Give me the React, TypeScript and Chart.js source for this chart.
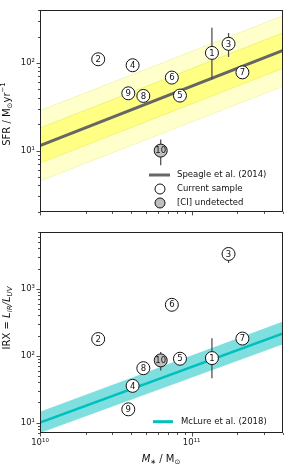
import React, { useEffect, useRef } from 'react';
import { Chart, registerables } from 'chart.js';
Chart.register(...registerables);

const FONT = '"DejaVu Sans"';
Chart.defaults.font.family = FONT;

// ---------------- data ----------------
const sampleIds = ['1', '2', '3', '4', '5', '6', '7', '8', '9'];
const sampleMass = [1.36e11, 2.42e10, 1.75e11, 4.08e10, 8.37e10, 7.4e10, 2.16e11, 4.8e10, 3.82e10];
const sampleSfr = [130, 110, 165, 94, 42.4, 68, 78, 42, 45];
const sampleSfrLo = [65, null, 117, null, null, null, null, null, null];
const sampleSfrHi = [252, null, 219, null, null, null, null, null, null];
const sampleIrx = [92, 177, 3300, 35.4, 90, 575, 180, 65, 15.8];
const sampleIrxLo = [46, null, 2420, null, null, null, null, null, null];
const sampleIrxHi = [182, null, 3600, null, null, null, null, null, null];

const undetIds = ['10'];
const undetMass = [6.25e10];
const undetSfr = [10];
const undetSfrLo = [6.8];
const undetSfrHi = [13.4];
const undetIrx = [85];
const undetIrxLo = [60];
const undetIrxHi = [113];

const relationMass = [1e10, 4e11];
const speagleSfr = [11.4, 139];
const speagleInnerHi = [18.1, 220];
const speagleInnerLo = [7.2, 87];
const speagleOuterHi = [28.6, 345];
const speagleOuterLo = [4.5, 54];
const mclureIrx = [10, 215];
const mclureHi = [14.5, 325];
const mclureLo = [7.0, 148];

const massTicks = [1e10, 2e10, 3e10, 4e10, 5e10, 6e10, 7e10, 8e10, 9e10, 1e11, 2e11, 3e11, 4e11];
const massMajor = [1e10, 1e11];
const massMajorLabels = ['10¹⁰', '10¹¹'];
const sfrTicks = [2, 3, 4, 5, 6, 7, 8, 9, 10, 20, 30, 40, 50, 60, 70, 80, 90, 100, 200, 300, 400];
const sfrMajor = [10, 100];
const sfrMajorLabels = ['10¹', '10²'];
const irxTicks = [7, 8, 9, 10, 20, 30, 40, 50, 60, 70, 80, 90, 100, 200, 300, 400, 500, 600, 700, 800, 900,
  1000, 2000, 3000, 4000, 5000, 6000, 7000];
const irxMajor = [10, 100, 1000];
const irxMajorLabels = ['10¹', '10²', '10³'];

// ---------------- helpers ----------------
type Seg = { t: string; s: number; dy?: number; it?: boolean };
const fnt = (s: number, it?: boolean) => `${it ? 'italic ' : ''}${s}px ${FONT}`;

function drawRich(ctx: CanvasRenderingContext2D, segs: Seg[], cx: number, cy: number, rot: boolean) {
  ctx.save();
  ctx.translate(cx, cy);
  if (rot) ctx.rotate(-Math.PI / 2);
  let w = 0;
  for (const g of segs) { ctx.font = fnt(g.s, g.it); w += ctx.measureText(g.t).width; }
  let x = -w / 2;
  ctx.textBaseline = 'middle';
  ctx.textAlign = 'left';
  ctx.fillStyle = '#111';
  for (const g of segs) {
    ctx.font = fnt(g.s, g.it);
    ctx.fillText(g.t, x, g.dy || 0);
    x += ctx.measureText(g.t).width;
  }
  ctx.restore();
}

const pts = (xs: number[], ys: number[]) => xs.map((x, i) => ({ x, y: ys[i] }));

type Err = { x: number; lo: number; hi: number };
function errs(xs: number[], lo: (number | null)[], hi: (number | null)[]): Err[] {
  const out: Err[] = [];
  xs.forEach((x, i) => { if (lo[i] != null && hi[i] != null) out.push({ x, lo: lo[i] as number, hi: hi[i] as number }); });
  return out;
}

type Spec = {
  yTicks: number[];
  errors: Err[];
  yTitle: Seg[];
  yTitleY: number;
  xTitle?: Seg[];
  xTitleY?: number;
  legend: (ctx: CanvasRenderingContext2D) => void;
};

function decor(spec: Spec) {
  return {
    id: 'decor',
    beforeDatasetDraw(chart: any, args: any) {
      if (args.index !== 1) return;
      const ctx = chart.ctx as CanvasRenderingContext2D;
      const xs = chart.scales.x, ys = chart.scales.y;
      ctx.save();
      ctx.strokeStyle = '#444';
      ctx.lineWidth = 1.2;
      for (const e of spec.errors) {
        const px = xs.getPixelForValue(e.x);
        ctx.beginPath();
        ctx.moveTo(px, ys.getPixelForValue(e.lo));
        ctx.lineTo(px, ys.getPixelForValue(e.hi));
        ctx.stroke();
      }
      ctx.restore();
    },
    afterDatasetsDraw(chart: any) {
      const ctx = chart.ctx as CanvasRenderingContext2D;
      const a = chart.chartArea;
      const xs = chart.scales.x, ys = chart.scales.y;
      ctx.save();
      // numbers inside markers
      ctx.font = fnt(8.5);
      ctx.fillStyle = '#111';
      ctx.textAlign = 'center';
      ctx.textBaseline = 'middle';
      const idSets = [undetIds, sampleIds];
      [0, 1].forEach((di) => {
        chart.getDatasetMeta(di).data.forEach((el: any, j: number) => {
          ctx.fillText(idSets[di][j], el.x, el.y + 0.5);
        });
      });
      // frame
      ctx.strokeStyle = '#222';
      ctx.lineWidth = 1;
      ctx.strokeRect(Math.round(a.left) + 0.5, Math.round(a.top) + 0.5,
        Math.round(a.right - a.left) - 1, Math.round(a.bottom - a.top) - 1);
      // ticks
      ctx.strokeStyle = '#222';
      ctx.lineWidth = 0.8;
      ctx.beginPath();
      for (const v of massTicks) {
        const px = Math.round(xs.getPixelForValue(v)) + 0.5;
        const major = massMajor.includes(v);
        ctx.moveTo(px, a.bottom);
        ctx.lineTo(px, a.bottom + (major ? 3.5 : 2));
      }
      for (const v of spec.yTicks) {
        const py = Math.round(ys.getPixelForValue(v)) + 0.5;
        const major = Math.abs(Math.log10(v) - Math.round(Math.log10(v))) < 1e-9;
        ctx.moveTo(a.left, py);
        ctx.lineTo(a.left - (major ? 3.5 : 2), py);
      }
      ctx.stroke();
      // legend
      spec.legend(ctx);
      // titles
      drawRich(ctx, spec.yTitle, 7, spec.yTitleY, true);
      if (spec.xTitle) drawRich(ctx, spec.xTitle, 161, spec.xTitleY as number, false);
      ctx.restore();
    },
  };
}

function legendText(ctx: CanvasRenderingContext2D, t: string, x: number, y: number) {
  ctx.font = fnt(8.5);
  ctx.fillStyle = '#111';
  ctx.textAlign = 'left';
  ctx.textBaseline = 'middle';
  ctx.fillText(t, x, y);
}
function legendCircle(ctx: CanvasRenderingContext2D, x: number, y: number, fill: string) {
  ctx.beginPath();
  ctx.arc(x, y, 5, 0, Math.PI * 2);
  ctx.fillStyle = fill;
  ctx.fill();
  ctx.strokeStyle = '#111';
  ctx.lineWidth = 1;
  ctx.stroke();
}

const markerStyle = (fill: string) => ({
  showLine: false,
  pointRadius: 6.5,
  pointBackgroundColor: fill,
  pointBorderColor: '#111',
  pointBorderWidth: 1,
  borderColor: '#111',
});
const relStyle = { pointRadius: 0, tension: 0 };

function logAxis(min: number, max: number, ticks: number[], major: number[], labels: string[], extra: any) {
  return {
    type: 'logarithmic',
    min,
    max,
    afterBuildTicks: (s: any) => { s.ticks = ticks.map((v) => ({ value: v })); },
    ticks: {
      autoSkip: false,
      maxRotation: 0,
      font: { size: 8.5, family: FONT },
      color: '#222',
      callback: (v: number) => { const i = major.indexOf(v); return i >= 0 ? labels[i] : ''; },
      ...(extra.ticks || {}),
    },
    grid: { display: false, drawTicks: false },
    border: { display: false },
    afterFit: extra.afterFit,
  };
}

function topConfig(): any {
  return {
    type: 'line',
    data: {
      datasets: [
        { data: pts(undetMass, undetSfr), ...markerStyle('#bfbfbf') },
        { data: pts(sampleMass, sampleSfr), ...markerStyle('#ffffff') },
        { data: pts(relationMass, speagleSfr), borderColor: '#666666', borderWidth: 3, fill: false, ...relStyle },
        { data: pts(relationMass, speagleInnerHi), borderColor: 'rgba(225,225,80,0.6)', borderWidth: 0.8,
          fill: '+1', backgroundColor: 'rgba(255,255,0,0.36)', ...relStyle },
        { data: pts(relationMass, speagleInnerLo), borderColor: 'rgba(225,225,80,0.6)', borderWidth: 0.8, fill: false, ...relStyle },
        { data: pts(relationMass, speagleOuterHi), borderColor: 'rgba(230,230,120,0.5)', borderWidth: 0.8,
          fill: '+1', backgroundColor: 'rgba(255,255,0,0.2)', ...relStyle },
        { data: pts(relationMass, speagleOuterLo), borderColor: 'rgba(230,230,120,0.5)', borderWidth: 0.8, fill: false, ...relStyle },
      ],
    },
    options: {
      responsive: false,
      animation: false,
      events: [],
      layout: { padding: { top: 9, right: 16, left: 0, bottom: 0 } },
      plugins: { legend: { display: false }, tooltip: { enabled: false } },
      scales: {
        x: logAxis(1e10, 4e11, massTicks, massMajor, massMajorLabels,
          { ticks: { display: false }, afterFit: (s: any) => { s.height = 5; } }),
        y: logAxis(2, 400, sfrTicks, sfrMajor, sfrMajorLabels,
          { ticks: { padding: 5 }, afterFit: (s: any) => { s.width = 40; } }),
      },
    },
    plugins: [decor({
      yTicks: sfrTicks,
      errors: [...errs(sampleMass, sampleSfrLo, sampleSfrHi), ...errs(undetMass, undetSfrLo, undetSfrHi)],
      yTitle: [{ t: 'SFR / M', s: 10 }, { t: '⊙', s: 7, dy: 3 }, { t: 'yr', s: 10 }, { t: '−1', s: 7, dy: -3.5 }],
      yTitleY: 114,
      legend: (ctx) => {
        ctx.strokeStyle = '#666666';
        ctx.lineWidth = 3;
        ctx.beginPath();
        ctx.moveTo(149, 175);
        ctx.lineTo(170, 175);
        ctx.stroke();
        legendText(ctx, 'Speagle et al. (2014)', 177, 175);
        legendCircle(ctx, 160, 189, '#ffffff');
        legendText(ctx, 'Current sample', 177, 189);
        legendCircle(ctx, 160, 203, '#bfbfbf');
        legendText(ctx, '[CI] undetected', 177, 203);
      },
    })],
  };
}

function bottomConfig(): any {
  return {
    type: 'line',
    data: {
      datasets: [
        { data: pts(undetMass, undetIrx), ...markerStyle('#bfbfbf') },
        { data: pts(sampleMass, sampleIrx), ...markerStyle('#ffffff') },
        { data: pts(relationMass, mclureIrx), borderColor: '#00bfbf', borderWidth: 2.5, fill: false, ...relStyle },
        { data: pts(relationMass, mclureHi), borderColor: 'rgba(0,191,191,0)', borderWidth: 0,
          fill: '+1', backgroundColor: 'rgba(0,191,191,0.5)', ...relStyle },
        { data: pts(relationMass, mclureLo), borderColor: 'rgba(0,191,191,0)', borderWidth: 0, fill: false, ...relStyle },
      ],
    },
    options: {
      responsive: false,
      animation: false,
      events: [],
      layout: { padding: { top: 6, right: 16, left: 0, bottom: 0 } },
      plugins: { legend: { display: false }, tooltip: { enabled: false } },
      scales: {
        x: logAxis(1e10, 4e11, massTicks, massMajor, massMajorLabels,
          { ticks: { padding: 5 }, afterFit: (s: any) => { s.height = 35; } }),
        y: logAxis(7, 7000, irxTicks, irxMajor, irxMajorLabels,
          { ticks: { padding: 5 }, afterFit: (s: any) => { s.width = 40; } }),
      },
    },
    plugins: [decor({
      yTicks: irxTicks,
      errors: [...errs(sampleMass, sampleIrxLo, sampleIrxHi), ...errs(undetMass, undetIrxLo, undetIrxHi)],
      yTitle: [{ t: 'IRX = ', s: 10 }, { t: 'L', s: 10, it: true }, { t: 'IR', s: 7, dy: 3, it: true },
        { t: '/', s: 10, it: true }, { t: 'L', s: 10, it: true }, { t: 'UV', s: 7, dy: 3, it: true }],
      yTitleY: 96,
      xTitle: [{ t: 'M', s: 10, it: true }, { t: '∗', s: 7, dy: 3 }, { t: ' / M', s: 10 }, { t: '⊙', s: 7, dy: 3 }],
      xTitleY: 237,
      legend: (ctx) => {
        ctx.strokeStyle = '#00bfbf';
        ctx.lineWidth = 3;
        ctx.beginPath();
        ctx.moveTo(153, 199.7);
        ctx.lineTo(173, 199.7);
        ctx.stroke();
        legendText(ctx, 'McLure et al. (2018)', 181, 199.7);
      },
    })],
  };
}

function Panel({ top, height, build }: { top: number; height: number; build: () => any }) {
  const ref = useRef<HTMLCanvasElement>(null);
  useEffect(() => {
    const chart = new Chart(ref.current as HTMLCanvasElement, build());
    return () => chart.destroy();
  }, []);
  return (
    <canvas ref={ref} width={299} height={height}
      style={{ position: 'absolute', left: 0, top, width: 299, height }} />
  );
}

export default function App() {
  return (
    <div style={{ position: 'fixed', left: 0, top: 0, width: 299, height: 468, background: '#fff' }}>
      <Panel top={0} height={222} build={topConfig} />
      <Panel top={222} height={246} build={bottomConfig} />
    </div>
  );
}
